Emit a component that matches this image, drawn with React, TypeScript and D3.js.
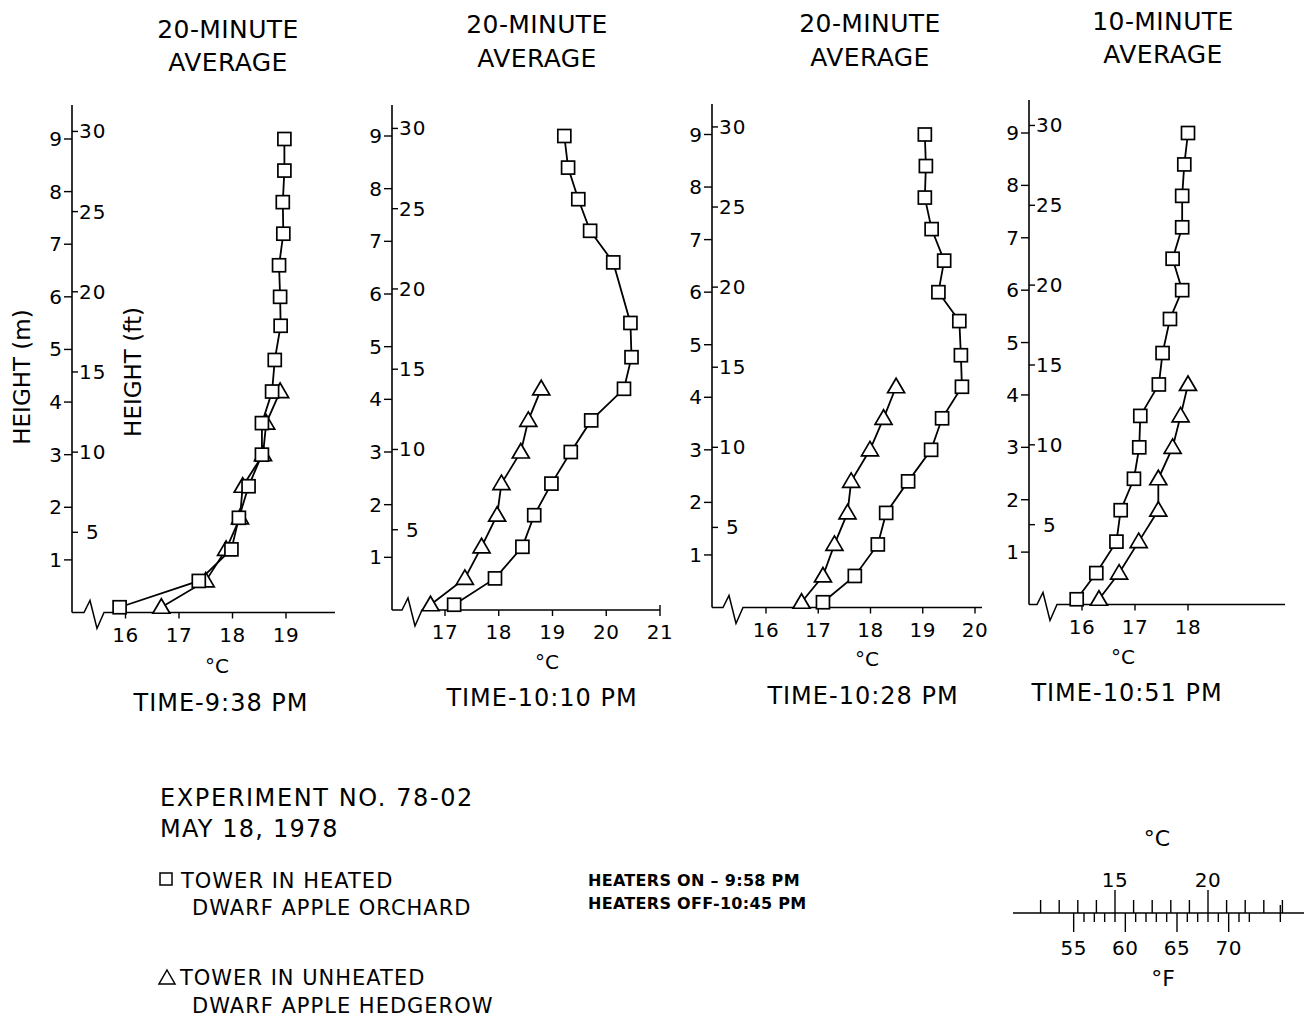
import React from 'react';
import * as d3 from 'd3';

// sensor heights (m) on the towers
const heights = [0.1, 0.6, 1.2, 1.8, 2.4, 3.0, 3.6, 4.2, 4.8, 5.45, 6.0, 6.6, 7.2, 7.8, 8.4, 9.0];
const hedgeHeights = [0.1, 0.6, 1.2, 1.8, 2.4, 3.0, 3.6, 4.2];
const heights1010 = [0.1, 0.6, 1.2, 1.8, 2.4, 3.0, 3.6, 4.2, 4.8, 5.45, 6.6, 7.2, 7.8, 8.4, 9.0];

// temperatures (°C)
const heated938 = [15.89, 17.37, 17.98, 18.12, 18.3, 18.55, 18.55, 18.74, 18.79, 18.9, 18.89, 18.87, 18.95, 18.94, 18.97, 18.97];
const unheated938 = [16.67, 17.5, 17.88, 18.14, 18.19, 18.57, 18.63, 18.89];
const heated1010 = [17.17, 17.93, 18.44, 18.66, 18.98, 19.34, 19.72, 20.33, 20.47, 20.45, 20.13, 19.7, 19.48, 19.29, 19.22];
const unheated1010 = [16.73, 17.37, 17.68, 17.97, 18.05, 18.41, 18.55, 18.79];
const heated1028 = [17.09, 17.7, 18.14, 18.3, 18.72, 19.16, 19.37, 19.75, 19.73, 19.7, 19.3, 19.41, 19.17, 19.04, 19.06, 19.04];
const unheated1028 = [16.68, 17.09, 17.31, 17.56, 17.63, 17.99, 18.25, 18.49];
const heated1051 = [15.9, 16.27, 16.65, 16.73, 16.98, 17.08, 17.1, 17.45, 17.52, 17.66, 17.89, 17.71, 17.89, 17.89, 17.93, 18.0];
const unheated1051 = [16.32, 16.7, 17.07, 17.44, 17.44, 17.71, 17.86, 18.0];

const titles = ['20-MINUTE', '20-MINUTE', '20-MINUTE', '10-MINUTE'];
const times = ['TIME-9:38 PM', 'TIME-10:10 PM', 'TIME-10:28 PM', 'TIME-10:51 PM'];
const mTicks = [1, 2, 3, 4, 5, 6, 7, 8, 9];
const ftTicks = [5, 10, 15, 20, 25, 30];
const xTicks1 = [16, 17, 18, 19];
const xTicks2 = [17, 18, 19, 20, 21];
const xTicks3 = [16, 17, 18, 19, 20];
const xTicks4 = [16, 17, 18];

// conversion scale
const cTicks = [11, 12, 13, 14, 15, 16, 17, 18, 19, 20, 21, 22, 23, 24];
const cMajor = [15, 20];
const fTicks = [55, 56, 57, 58, 59, 60, 61, 62, 63, 64, 65, 66, 67, 68, 69, 70, 71, 72, 75];
const fMajor = [55, 60, 65, 70];

const FONT = "'DejaVu Sans', sans-serif";

// panel layout
const panels = [
  { ax: 72, y0: 612.5, y9: 139, top: 105, xd: [16, 19], xr: [125.5, 286], end: 335, zig: 84, ticks: xTicks1,
    tx: 228, ty: [38, 71], cx: 217, cy: 673, timeX: 221, timeY: 711,
    sq: { h: heights, t: heated938 }, tr: { h: hedgeHeights, t: unheated938 } },
  { ax: 392, y0: 610, y9: 136, top: 105, xd: [17, 21], xr: [445, 660], end: 660, zig: 402, ticks: xTicks2,
    tx: 537, ty: [33, 67], cx: 547, cy: 669, timeX: 542, timeY: 706,
    sq: { h: heights1010, t: heated1010 }, tr: { h: hedgeHeights, t: unheated1010 } },
  { ax: 712, y0: 607.5, y9: 134.5, top: 104, xd: [16, 20], xr: [766, 975], end: 982, zig: 723, ticks: xTicks3,
    tx: 870, ty: [32, 66], cx: 867, cy: 666, timeX: 863, timeY: 704,
    sq: { h: heights, t: heated1028 }, tr: { h: hedgeHeights, t: unheated1028 } },
  { ax: 1029, y0: 604.5, y9: 133, top: 100, xd: [16, 18], xr: [1082, 1188], end: 1285, zig: 1037, ticks: xTicks4,
    tx: 1163, ty: [30, 63], cx: 1123, cy: 664, timeX: 1127, timeY: 701,
    sq: { h: heights, t: heated1051 }, tr: { h: hedgeHeights, t: unheated1051 } },
];

const triPath = 'M0,-8.5L8.5,6L-8.5,6Z';

const Panel = ({ p, i }) => {
  const y = d3.scaleLinear().domain([0, 9]).range([p.y0, p.y9]);
  const x = d3.scaleLinear().domain(p.xd).range(p.xr);
  const line = d3.line<[number, number]>().x(d => x(d[0])).y(d => y(d[1]));
  const sqPts = p.sq.t.map((t, k) => [t, p.sq.h[k]] as [number, number]);
  const trPts = p.tr.t.map((t, k) => [t, p.tr.h[k]] as [number, number]);
  const zx = p.zig;
  const zig = `M${p.ax},${p.y0}H${zx}L${zx + 6},${p.y0 - 12}L${zx + 13},${p.y0 + 16}L${zx + 20},${p.y0}H${p.end}`;
  return (
    <g>
      <text x={p.tx} y={p.ty[0]} textAnchor="middle" fontSize={25} letterSpacing={0.4}>{titles[i]}</text>
      <text x={p.tx} y={p.ty[1]} textAnchor="middle" fontSize={25} letterSpacing={0.4}>AVERAGE</text>
      <line x1={p.ax} x2={p.ax} y1={p.y0} y2={p.top} stroke="#000" strokeWidth={1.6} />
      <path d={zig} fill="none" stroke="#000" strokeWidth={1.5} />
      {mTicks.map(m => (
        <g key={'m' + m}>
          <line x1={p.ax - 8} x2={p.ax} y1={y(m)} y2={y(m)} stroke="#000" strokeWidth={1.4} />
          <text x={p.ax - 10} y={y(m) + 7} textAnchor="end" fontSize={20}>{m}</text>
        </g>
      ))}
      {ftTicks.map(f => (
        <g key={'f' + f}>
          <line x1={p.ax} x2={p.ax + 6} y1={y(f * 0.3048)} y2={y(f * 0.3048)} stroke="#000" strokeWidth={1.4} />
          <text x={f === 5 ? p.ax + 14 : p.ax + 7} y={y(f * 0.3048) + 7} fontSize={20} letterSpacing={1}>{f}</text>
        </g>
      ))}
      {p.ticks.map(t => (
        <g key={'x' + t}>
          <line x1={x(t)} x2={x(t)} y1={p.y0 - (t === p.xd[1] && p.end === x(t) ? 5 : 0)} y2={p.y0 + 6} stroke="#000" strokeWidth={1.4} />
          <text x={x(t)} y={p.y0 + 29} textAnchor="middle" fontSize={20} letterSpacing={0.5}>{t}</text>
        </g>
      ))}
      <text x={p.cx} y={p.cy} textAnchor="middle" fontSize={20}>°C</text>
      <text x={p.timeX} y={p.timeY} textAnchor="middle" fontSize={24} letterSpacing={1}>{times[i]}</text>
      <path d={line(trPts)} fill="none" stroke="#000" strokeWidth={1.8} />
      <path d={line(sqPts)} fill="none" stroke="#000" strokeWidth={1.8} />
      {trPts.map((d, k) => (
        <path key={'t' + k} d={triPath} transform={`translate(${x(d[0])},${y(d[1])})`} fill="#fff" stroke="#000" strokeWidth={1.7} />
      ))}
      {sqPts.map((d, k) => (
        <rect key={'s' + k} x={x(d[0]) - 6.5} y={y(d[1]) - 6.5} width={13} height={13} fill="#fff" stroke="#000" strokeWidth={1.7} />
      ))}
    </g>
  );
};

const Conversion = () => {
  const c = d3.scaleLinear().domain([15, 20]).range([1115, 1208]);
  const fx = (f: number) => c(((f - 32) * 5) / 9);
  const ly = 913;
  return (
    <g>
      <text x={1157} y={846} textAnchor="middle" fontSize={22}>°C</text>
      <line x1={1013} x2={1304} y1={ly} y2={ly} stroke="#000" strokeWidth={1.5} />
      {cTicks.map(t => (
        <line key={'c' + t} x1={c(t)} x2={c(t)} y1={ly} y2={cMajor.includes(t) ? ly - 23 : ly - 13} stroke="#000" strokeWidth={1.4} />
      ))}
      {cMajor.map(t => (
        <text key={'cl' + t} x={c(t)} y={887} textAnchor="middle" fontSize={20} letterSpacing={0.5}>{t}</text>
      ))}
      {fTicks.map(t => (
        <line key={'f' + t} x1={fx(t)} x2={fx(t)} y1={t === 75 ? ly - 8 : ly} y2={fMajor.includes(t) ? ly + 19 : ly + 9} stroke="#000" strokeWidth={1.4} />
      ))}
      {fMajor.map(t => (
        <text key={'fl' + t} x={fx(t)} y={955} textAnchor="middle" fontSize={20} letterSpacing={0.5}>{t}</text>
      ))}
      <text x={1163} y={986} textAnchor="middle" fontSize={22}>°F</text>
    </g>
  );
};

const Legend = () => (
  <g>
    <text x={160} y={806} fontSize={24} letterSpacing={1.6}>EXPERIMENT NO. 78-02</text>
    <text x={160} y={837} fontSize={24} letterSpacing={1.2}>MAY 18, 1978</text>
    <rect x={160} y={873} width={12} height={12} fill="#fff" stroke="#000" strokeWidth={1.5} />
    <text x={181} y={888} fontSize={21} letterSpacing={1}>TOWER IN HEATED</text>
    <text x={192} y={915} fontSize={21} letterSpacing={1}>DWARF APPLE ORCHARD</text>
    <path d="M167,970L175,984L159,984Z" fill="#fff" stroke="#000" strokeWidth={1.5} />
    <text x={180} y={985} fontSize={21} letterSpacing={1}>TOWER IN UNHEATED</text>
    <text x={192} y={1013} fontSize={21} letterSpacing={1}>DWARF APPLE HEDGEROW</text>
    <text x={588} y={886} fontSize={16} fontWeight="bold" letterSpacing={0.3}>HEATERS ON – 9:58 PM</text>
    <text x={588} y={909} fontSize={16} fontWeight="bold" letterSpacing={0.3}>HEATERS OFF-10:45 PM</text>
  </g>
);

const App = () => (
  <svg width={1304} height={1019} style={{ position: 'absolute', left: 0, top: 0, background: '#fff' }}
    fontFamily={FONT} fill="#000">
    <rect width={1304} height={1019} fill="#fff" />
    {panels.map((p, i) => <Panel key={i} p={p} i={i} />)}
    <text transform="translate(30,377) rotate(-90)" textAnchor="middle" fontSize={23}>HEIGHT (m)</text>
    <text transform="translate(141,372) rotate(-90)" textAnchor="middle" fontSize={23}>HEIGHT (ft)</text>
    <Legend />
    <Conversion />
  </svg>
);

export default App;
